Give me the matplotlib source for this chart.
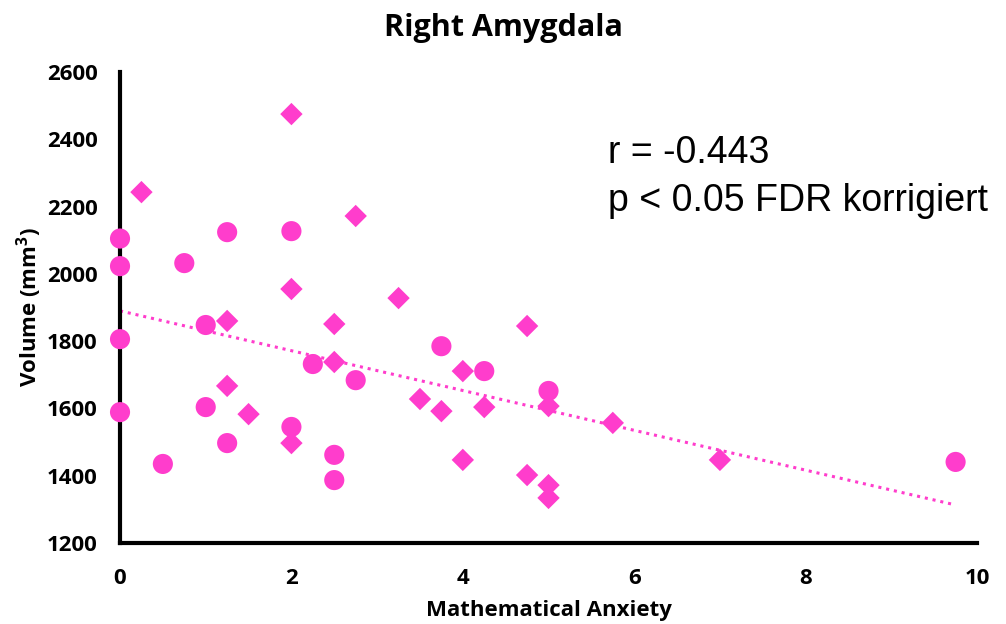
import matplotlib
matplotlib.use('Agg')
import matplotlib.pyplot as plt
import numpy as np

# circles
circle_x = [0, 0, 0, 0, 0.5, 0.75, 1.0, 1.0, 1.25, 1.25, 2, 2, 2.25, 2.5, 2.5, 2.75, 3.75, 4.25, 5, 9.75]
circle_y = [2105, 2023, 1806, 1589, 1435, 2032, 1848, 1604, 2124, 1497, 2127, 1545, 1732, 1462, 1387, 1684, 1785, 1711, 1652, 1441]

# diamonds
diamond_x = [0.25, 2, 2, 2, 1.25, 1.25, 1.5, 2.5, 2.5, 2.75, 3.25, 3.5, 3.75, 4.0, 4.0, 4.25, 4.75, 4.75, 5, 5, 5, 5.75, 7]
diamond_y = [2243, 2475, 1955, 1497, 1860, 1667, 1583, 1851, 1738, 2172, 1928, 1628, 1592, 1711, 1447, 1604, 1845, 1402, 1607, 1372, 1334, 1557, 1447]

# trendline
trend_x = [0, 9.75]
trend_y = [1890, 1313]

stat_lines = ['r = -0.443', 'p < 0.05 FDR korrigiert']

pink = '#FF3DCC'
lab_font = 'Open Sans'

fig = plt.figure(figsize=(10.06, 6.24), dpi=100)
ax = fig.add_axes([0.1193, 0.1298, 0.8519, 0.7548])

ax.plot(trend_x, trend_y, linestyle=(0, (1, 1.6)), color=pink, linewidth=2.2, zorder=1)
ax.scatter(circle_x, circle_y, s=210, marker='o', color=pink, edgecolors='none', zorder=3, clip_on=False)
ax.scatter(diamond_x, diamond_y, s=130, marker='D', color=pink, edgecolors='none', zorder=3, clip_on=False)

ax.set_xlim(0, 10)
ax.set_ylim(1200, 2600)
ax.set_xticks(np.arange(0, 11, 2))
ax.set_yticks(np.arange(1200, 2601, 200))
ax.tick_params(axis='x', length=0, pad=18)
ax.tick_params(axis='y', length=0, pad=16)
for lab in ax.get_xticklabels() + ax.get_yticklabels():
    lab.set_fontfamily(lab_font)
    lab.set_fontweight('bold')
    lab.set_fontsize(16)

for side in ['top', 'right']:
    ax.spines[side].set_visible(False)
for side in ['left', 'bottom']:
    ax.spines[side].set_linewidth(3)
    ax.spines[side].set_color('black')

ax.set_xlabel('Mathematical Anxiety', fontfamily=lab_font, fontweight='bold', fontsize=16, labelpad=8)
ax.set_ylabel('Volume (mm$^\\mathregular{3}$)', fontfamily=lab_font, fontweight='bold', fontsize=16, labelpad=2)
fig.suptitle('Right Amygdala', fontfamily=lab_font, fontweight='bold', fontsize=22, y=0.979)

ax.text(0.5694, 0.8068, stat_lines[0], transform=ax.transAxes,
        fontfamily='Liberation Sans', fontsize=27, va='baseline', ha='left')
ax.text(0.5694, 0.7049, stat_lines[1], transform=ax.transAxes,
        fontfamily='Liberation Sans', fontsize=27, va='baseline', ha='left')

fig.savefig('out.png', dpi=100)
